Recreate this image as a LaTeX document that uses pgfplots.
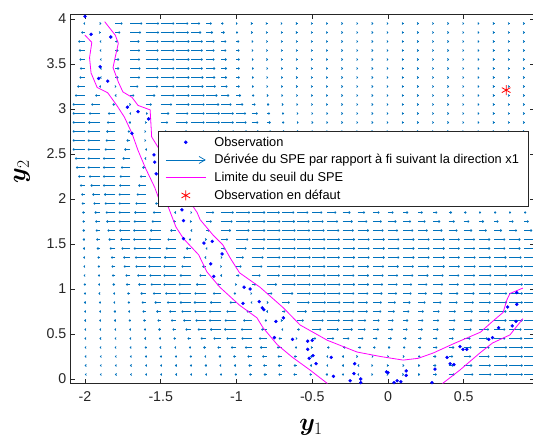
\PassOptionsToPackage{rgb}{xcolor}
\documentclass[border=0pt]{standalone}
\usepackage{fix-cm}
\usepackage{amsmath}
\usepackage{bm}
\usepackage[no-math]{fontspec}
\setmainfont{Liberation Sans}
\usepackage{pgfplots}
\pgfplotsset{compat=1.18}
\usetikzlibrary{arrows.meta}
\definecolor{mblue}{rgb}{0,0.447,0.741}
\definecolor{axgray}{rgb}{0.15,0.15,0.15}
\definecolor{mred}{rgb}{1,0,0}
\definecolor{mdot}{rgb}{0,0,1}
\definecolor{mmag}{rgb}{1,0,1}
\begin{document}
\begin{tikzpicture}
\useasboundingbox (-69.85bp,-55.5bp) rectangle (463.15bp,383.5bp);
\begin{axis}[
  at={(0,0)}, anchor=south west,
  scale only axis, width=465.1bp, height=369bp,
  xmin=-2.1, xmax=0.97, ymin=-0.05, ymax=4.05,
  xtick={-2,-1.5,-1,-0.5,0,0.5}, ytick={0,0.5,1,1.5,2,2.5,3,3.5,4},
  tick align=inside, major tick length=5bp,
  axis line style={axgray, line width=0.6bp},
  every tick/.style={axgray, line width=0.6bp},
  tick label style={font=\fontsize{14.2bp}{16bp}\selectfont, text=axgray},
  xticklabel style={yshift=-5bp},
  /pgf/number format/assume math mode=true,
  xlabel={$\bm{y}_1$}, ylabel={$\bm{y}_2$},
  x label style={at={(axis description cs:0.5185,0)}, anchor=base, yshift=-47bp, font=\fontsize{25bp}{30bp}\selectfont},
  y label style={at={(axis description cs:-0.0964,0.5745)}, anchor=base, font=\fontsize{25bp}{30bp}\selectfont},
  legend style={at={(0.1896,0.684)}, anchor=north west, draw=axgray, line width=0.5bp, fill=white,
    font=\fontsize{12.8bp}{15bp}\selectfont, row sep=2.9bp, inner xsep=7bp, inner ysep=3.5bp,
    /tikz/every odd column/.append style={column sep=6bp}},
  legend cell align=left,
  unbounded coords=jump,
]
\addplot[mblue, line width=0.8bp, -{Straight Barb[length=1bp,width=2bp]}, quiver={u=\thisrow{u}, v=0, scale arrows=0.0075}, forget plot]
table[row sep=\\] {
x y u\\
-2 3.95 -1.5\\ -1.9 3.95 1\\ -1.8 3.95 6.5\\ -1.7 3.95 10.5\\ -1.6 3.95 12\\ -1.5 3.95 12\\ -1.4 3.95 11\\ -1.3 3.95 8\\ -1.2 3.95 5\\ -1.1 3.95 2\\ -1 3.95 1\\ -0.9 3.95 0.8\\ -0.8 3.95 0.6\\ -0.7 3.95 0.4\\ -0.6 3.95 0.4\\ -0.5 3.95 0.4\\ -0.4 3.95 0.4\\ -0.3 3.95 0.4\\ -0.2 3.95 0.4\\ -0.1 3.95 0.4\\ 0 3.95 0.4\\ 0.1 3.95 0.4\\ 0.2 3.95 0.4\\ 0.3 3.95 0.4\\ 0.4 3.95 0.4\\ 0.5 3.95 0.4\\ 0.6 3.95 0.4\\ 0.7 3.95 0.4\\ 0.8 3.95 0.4\\ 0.9 3.95 0.4\\
-2 3.85 -3.5\\ -1.9 3.85 0.5\\ -1.8 3.85 4.5\\ -1.7 3.85 9.5\\ -1.6 3.85 12\\ -1.5 3.85 12\\ -1.4 3.85 11.5\\ -1.3 3.85 9\\ -1.2 3.85 6\\ -1.1 3.85 3\\ -1 3.85 1.5\\ -0.9 3.85 1\\ -0.8 3.85 0.8\\ -0.7 3.85 0.6\\ -0.6 3.85 0.4\\ -0.5 3.85 0.4\\ -0.4 3.85 0.4\\ -0.3 3.85 0.4\\ -0.2 3.85 0.4\\ -0.1 3.85 0.4\\ 0 3.85 0.4\\ 0.1 3.85 0.4\\ 0.2 3.85 0.4\\ 0.3 3.85 0.4\\ 0.4 3.85 0.4\\ 0.5 3.85 0.4\\ 0.6 3.85 0.4\\ 0.7 3.85 0.4\\ 0.8 3.85 0.4\\ 0.9 3.85 0.4\\
-2 3.75 -6\\ -1.9 3.75 -0.5\\ -1.8 3.75 2.5\\ -1.7 3.75 8\\ -1.6 3.75 11.5\\ -1.5 3.75 12\\ -1.4 3.75 12\\ -1.3 3.75 10.5\\ -1.2 3.75 7.5\\ -1.1 3.75 4.5\\ -1 3.75 2.5\\ -0.9 3.75 1.5\\ -0.8 3.75 1\\ -0.7 3.75 0.7\\ -0.6 3.75 0.5\\ -0.5 3.75 0.4\\ -0.4 3.75 0.4\\ -0.3 3.75 0.4\\ -0.2 3.75 0.4\\ -0.1 3.75 0.4\\ 0 3.75 0.4\\ 0.1 3.75 0.4\\ 0.2 3.75 0.4\\ 0.3 3.75 0.4\\ 0.4 3.75 0.4\\ 0.5 3.75 0.4\\ 0.6 3.75 0.4\\ 0.7 3.75 0.4\\ 0.8 3.75 0.4\\ 0.9 3.75 0.4\\
-2 3.65 -5.5\\ -1.9 3.65 -0.5\\ -1.8 3.65 3\\ -1.7 3.65 8.5\\ -1.6 3.65 11.5\\ -1.5 3.65 12\\ -1.4 3.65 12\\ -1.3 3.65 10.5\\ -1.2 3.65 7.5\\ -1.1 3.65 4.5\\ -1 3.65 2.8\\ -0.9 3.65 1.6\\ -0.8 3.65 1\\ -0.7 3.65 0.7\\ -0.6 3.65 0.5\\ -0.5 3.65 0.4\\ -0.4 3.65 0.4\\ -0.3 3.65 0.4\\ -0.2 3.65 0.4\\ -0.1 3.65 0.4\\ 0 3.65 0.4\\ 0.1 3.65 0.4\\ 0.2 3.65 0.4\\ 0.3 3.65 0.4\\ 0.4 3.65 0.4\\ 0.5 3.65 0.4\\ 0.6 3.65 0.4\\ 0.7 3.65 0.4\\ 0.8 3.65 0.4\\ 0.9 3.65 0.4\\
-2 3.55 -5\\ -1.9 3.55 -0.3\\ -1.8 3.55 3.5\\ -1.7 3.55 8.5\\ -1.6 3.55 11.5\\ -1.5 3.55 12\\ -1.4 3.55 12\\ -1.3 3.55 10.5\\ -1.2 3.55 7.5\\ -1.1 3.55 4.8\\ -1 3.55 3\\ -0.9 3.55 1.8\\ -0.8 3.55 1.1\\ -0.7 3.55 0.7\\ -0.6 3.55 0.5\\ -0.5 3.55 0.4\\ -0.4 3.55 0.4\\ -0.3 3.55 0.4\\ -0.2 3.55 0.4\\ -0.1 3.55 0.4\\ 0 3.55 0.4\\ 0.1 3.55 0.4\\ 0.2 3.55 0.4\\ 0.3 3.55 0.4\\ 0.4 3.55 0.4\\ 0.5 3.55 0.4\\ 0.6 3.55 0.4\\ 0.7 3.55 0.4\\ 0.8 3.55 0.4\\ 0.9 3.55 0.4\\
-2 3.45 -4.5\\ -1.9 3.45 -0.2\\ -1.8 3.45 3.5\\ -1.7 3.45 9\\ -1.6 3.45 11.5\\ -1.5 3.45 12\\ -1.4 3.45 12\\ -1.3 3.45 10.5\\ -1.2 3.45 8\\ -1.1 3.45 5\\ -1 3.45 3\\ -0.9 3.45 2\\ -0.8 3.45 1.2\\ -0.7 3.45 0.8\\ -0.6 3.45 0.5\\ -0.5 3.45 0.4\\ -0.4 3.45 0.4\\ -0.3 3.45 0.4\\ -0.2 3.45 0.4\\ -0.1 3.45 0.4\\ 0 3.45 0.4\\ 0.1 3.45 0.4\\ 0.2 3.45 0.4\\ 0.3 3.45 0.4\\ 0.4 3.45 0.4\\ 0.5 3.45 0.4\\ 0.6 3.45 0.4\\ 0.7 3.45 0.4\\ 0.8 3.45 0.4\\ 0.9 3.45 0.4\\
-2 3.35 -5\\ -1.9 3.35 -0.3\\ -1.8 3.35 3\\ -1.7 3.35 8.5\\ -1.6 3.35 11.5\\ -1.5 3.35 12\\ -1.4 3.35 12\\ -1.3 3.35 11\\ -1.2 3.35 8\\ -1.1 3.35 5\\ -1 3.35 3\\ -0.9 3.35 2\\ -0.8 3.35 1.2\\ -0.7 3.35 0.8\\ -0.6 3.35 0.6\\ -0.5 3.35 0.4\\ -0.4 3.35 0.4\\ -0.3 3.35 0.4\\ -0.2 3.35 0.4\\ -0.1 3.35 0.4\\ 0 3.35 0.4\\ 0.1 3.35 0.4\\ 0.2 3.35 0.4\\ 0.3 3.35 0.4\\ 0.4 3.35 0.4\\ 0.5 3.35 0.4\\ 0.6 3.35 0.4\\ 0.7 3.35 0.4\\ 0.8 3.35 0.4\\ 0.9 3.35 0.4\\
-2 3.25 -7\\ -1.9 3.25 -1\\ -1.8 3.25 1\\ -1.7 3.25 7\\ -1.6 3.25 11\\ -1.5 3.25 12\\ -1.4 3.25 12\\ -1.3 3.25 11\\ -1.2 3.25 8.5\\ -1.1 3.25 5.5\\ -1 3.25 3\\ -0.9 3.25 2\\ -0.8 3.25 1.2\\ -0.7 3.25 0.8\\ -0.6 3.25 0.6\\ -0.5 3.25 0.4\\ -0.4 3.25 0.4\\ -0.3 3.25 0.4\\ -0.2 3.25 0.4\\ -0.1 3.25 0.4\\ 0 3.25 0.4\\ 0.1 3.25 0.4\\ 0.2 3.25 0.4\\ 0.3 3.25 0.4\\ 0.4 3.25 0.4\\ 0.5 3.25 0.4\\ 0.6 3.25 0.4\\ 0.7 3.25 0.4\\ 0.8 3.25 0.4\\ 0.9 3.25 0.4\\
-2 3.15 -9\\ -1.9 3.15 -4.5\\ -1.8 3.15 -0.5\\ -1.7 3.15 3.5\\ -1.6 3.15 8.5\\ -1.5 3.15 12\\ -1.4 3.15 12\\ -1.3 3.15 12\\ -1.2 3.15 10\\ -1.1 3.15 7\\ -1 3.15 4\\ -0.9 3.15 2.5\\ -0.8 3.15 1.5\\ -0.7 3.15 1\\ -0.6 3.15 0.7\\ -0.5 3.15 0.5\\ -0.4 3.15 0.4\\ -0.3 3.15 0.4\\ -0.2 3.15 0.4\\ -0.1 3.15 0.4\\ 0 3.15 0.4\\ 0.1 3.15 0.4\\ 0.2 3.15 0.4\\ 0.3 3.15 0.4\\ 0.4 3.15 0.4\\ 0.5 3.15 0.4\\ 0.6 3.15 0.4\\ 0.7 3.15 0.4\\ 0.8 3.15 0.4\\ 0.9 3.15 0.4\\
-2 3.05 -11\\ -1.9 3.05 -8\\ -1.8 3.05 -2.5\\ -1.7 3.05 0.5\\ -1.6 3.05 5.5\\ -1.5 3.05 10\\ -1.4 3.05 12\\ -1.3 3.05 12\\ -1.2 3.05 11.5\\ -1.1 3.05 9\\ -1 3.05 6\\ -0.9 3.05 3.5\\ -0.8 3.05 2.2\\ -0.7 3.05 1.4\\ -0.6 3.05 0.9\\ -0.5 3.05 0.6\\ -0.4 3.05 0.4\\ -0.3 3.05 0.4\\ -0.2 3.05 0.4\\ -0.1 3.05 0.4\\ 0 3.05 0.4\\ 0.1 3.05 0.4\\ 0.2 3.05 0.4\\ 0.3 3.05 0.4\\ 0.4 3.05 0.4\\ 0.5 3.05 0.4\\ 0.6 3.05 0.4\\ 0.7 3.05 0.4\\ 0.8 3.05 0.4\\ 0.9 3.05 0.4\\
-2 2.95 -11\\ -1.9 2.95 -10\\ -1.8 2.95 -6.5\\ -1.7 2.95 -1\\ -1.6 2.95 2\\ -1.5 2.95 7.5\\ -1.4 2.95 11\\ -1.3 2.95 12\\ -1.2 2.95 12\\ -1.1 2.95 11\\ -1 2.95 8.5\\ -0.9 2.95 5.5\\ -0.8 2.95 3\\ -0.7 2.95 2\\ -0.6 2.95 1.2\\ -0.5 2.95 0.8\\ -0.4 2.95 0.6\\ -0.3 2.95 0.4\\ -0.2 2.95 0.4\\ -0.1 2.95 0.4\\ 0 2.95 0.4\\ 0.1 2.95 0.4\\ 0.2 2.95 0.4\\ 0.3 2.95 0.4\\ 0.4 2.95 0.4\\ 0.5 2.95 0.4\\ 0.6 2.95 0.4\\ 0.7 2.95 0.4\\ 0.8 2.95 0.4\\ 0.9 2.95 0.4\\
-2 2.85 -11\\ -1.9 2.85 -10.5\\ -1.8 2.85 -7.5\\ -1.7 2.85 -1.5\\ -1.6 2.85 1\\ -1.5 2.85 6.5\\ -1.4 2.85 10.5\\ -1.3 2.85 12\\ -1.2 2.85 12\\ -1.1 2.85 11\\ -1 2.85 9\\ -0.9 2.85 6\\ -0.8 2.85 3.5\\ -0.7 2.85 2.2\\ -0.6 2.85 1.4\\ -0.5 2.85 0.9\\ -0.4 2.85 0.6\\ -0.3 2.85 0.4\\ -0.2 2.85 0.4\\ -0.1 2.85 0.4\\ 0 2.85 0.4\\ 0.1 2.85 0.4\\ 0.2 2.85 0.4\\ 0.3 2.85 0.4\\ 0.4 2.85 0.4\\ 0.5 2.85 0.4\\ 0.6 2.85 0.4\\ 0.7 2.85 0.4\\ 0.8 2.85 0.4\\ 0.9 2.85 0.4\\
-2 2.75 -11\\ -1.9 2.75 -11\\ -1.8 2.75 -8\\ -1.7 2.75 -2.5\\ -1.6 2.75 0.5\\ -1.5 2.75 5.5\\ -1.4 2.75 10\\ -1.3 2.75 12\\ -1.2 2.75 12\\ -1.1 2.75 11.5\\ -1 2.75 9.5\\ -0.9 2.75 6.5\\ -0.8 2.75 4\\ -0.7 2.75 2.5\\ -0.6 2.75 1.5\\ -0.5 2.75 1\\ -0.4 2.75 0.7\\ -0.3 2.75 0.5\\ -0.2 2.75 0.4\\ -0.1 2.75 0.4\\ 0 2.75 0.4\\ 0.1 2.75 0.4\\ 0.2 2.75 0.4\\ 0.3 2.75 0.4\\ 0.4 2.75 0.4\\ 0.5 2.75 0.4\\ 0.6 2.75 0.4\\ 0.7 2.75 0.4\\ 0.8 2.75 0.4\\ 0.9 2.75 0.4\\
-2 2.65 -11\\ -1.9 2.65 -11\\ -1.8 2.65 -8.5\\ -1.7 2.65 -3.5\\ -1.6 2.65 0.5\\ -1.5 2.65 4.5\\ -1.4 2.65 9.5\\ -1.3 2.65 12\\ -1.2 2.65 12\\ -1.1 2.65 12\\ -1 2.65 10\\ -0.9 2.65 7\\ -0.8 2.65 4.5\\ -0.7 2.65 3\\ -0.6 2.65 2\\ -0.5 2.65 1.2\\ -0.4 2.65 0.8\\ -0.3 2.65 0.5\\ -0.2 2.65 0.5\\ -0.1 2.65 0.5\\ 0 2.65 0.5\\ 0.1 2.65 0.5\\ 0.2 2.65 0.5\\ 0.3 2.65 0.5\\ 0.4 2.65 0.5\\ 0.5 2.65 0.5\\ 0.6 2.65 0.5\\ 0.7 2.65 0.5\\ 0.8 2.65 0.5\\ 0.9 2.65 0.5\\
-2 2.55 -11\\ -1.9 2.55 -11\\ -1.8 2.55 -9.5\\ -1.7 2.55 -5.5\\ -1.6 2.55 -0.5\\ -1.5 2.55 3\\ -1.4 2.55 8.5\\ -1.3 2.55 11.5\\ -1.2 2.55 12\\ -1.1 2.55 12\\ -1 2.55 10.5\\ -0.9 2.55 8\\ -0.8 2.55 5.5\\ -0.7 2.55 3.5\\ -0.6 2.55 2.5\\ -0.5 2.55 1.5\\ -0.4 2.55 1\\ -0.3 2.55 0.6\\ -0.2 2.55 0.6\\ -0.1 2.55 0.6\\ 0 2.55 0.6\\ 0.1 2.55 0.6\\ 0.2 2.55 0.6\\ 0.3 2.55 0.6\\ 0.4 2.55 0.6\\ 0.5 2.55 0.6\\ 0.6 2.55 0.6\\ 0.7 2.55 0.6\\ 0.8 2.55 0.6\\ 0.9 2.55 0.6\\
-2 2.45 -9\\ -1.9 2.45 -11\\ -1.8 2.45 -11\\ -1.7 2.45 -7\\ -1.6 2.45 -1\\ -1.5 2.45 1\\ -1.4 2.45 7\\ -1.3 2.45 11\\ -1.2 2.45 12\\ -1.1 2.45 12\\ -1 2.45 11\\ -0.9 2.45 9\\ -0.8 2.45 6.5\\ -0.7 2.45 4.5\\ -0.6 2.45 3\\ -0.5 2.45 2\\ -0.4 2.45 1.5\\ -0.3 2.45 1\\ -0.2 2.45 0.8\\ -0.1 2.45 0.8\\ 0 2.45 0.8\\ 0.1 2.45 0.8\\ 0.2 2.45 0.8\\ 0.3 2.45 0.8\\ 0.4 2.45 0.8\\ 0.5 2.45 0.8\\ 0.6 2.45 0.8\\ 0.7 2.45 0.8\\ 0.8 2.45 0.8\\ 0.9 2.45 0.8\\
-2 2.35 -8\\ -1.9 2.35 -11\\ -1.8 2.35 -11\\ -1.7 2.35 -8.5\\ -1.6 2.35 -3\\ -1.5 2.35 0.5\\ -1.4 2.35 5\\ -1.3 2.35 10\\ -1.2 2.35 12\\ -1.1 2.35 12\\ -1 2.35 11.5\\ -0.9 2.35 9.5\\ -0.8 2.35 7.5\\ -0.7 2.35 5.5\\ -0.6 2.35 4\\ -0.5 2.35 3\\ -0.4 2.35 2\\ -0.3 2.35 1.5\\ -0.2 2.35 1.2\\ -0.1 2.35 1\\ 0 2.35 1\\ 0.1 2.35 1\\ 0.2 2.35 1\\ 0.3 2.35 1\\ 0.4 2.35 1\\ 0.5 2.35 1\\ 0.6 2.35 1\\ 0.7 2.35 1\\ 0.8 2.35 1\\ 0.9 2.35 1\\
-2 2.25 -6\\ -1.9 2.25 -10\\ -1.8 2.25 -11\\ -1.7 2.25 -9.5\\ -1.6 2.25 -5\\ -1.5 2.25 -0.5\\ -1.4 2.25 3\\ -1.3 2.25 8.5\\ -1.2 2.25 11.5\\ -1.1 2.25 12\\ -1 2.25 12\\ -0.9 2.25 10\\ -0.8 2.25 8.5\\ -0.7 2.25 6.5\\ -0.6 2.25 5\\ -0.5 2.25 4\\ -0.4 2.25 3\\ -0.3 2.25 2.5\\ -0.2 2.25 2\\ -0.1 2.25 1.5\\ 0 2.25 1.2\\ 0.1 2.25 1.2\\ 0.2 2.25 1.2\\ 0.3 2.25 1.2\\ 0.4 2.25 1.2\\ 0.5 2.25 1.2\\ 0.6 2.25 1.2\\ 0.7 2.25 1.2\\ 0.8 2.25 1.2\\ 0.9 2.25 1.2\\
-2 2.15 -4.5\\ -1.9 2.15 -8.5\\ -1.8 2.15 -11\\ -1.7 2.15 -10\\ -1.6 2.15 -6.5\\ -1.5 2.15 -1\\ -1.4 2.15 1.5\\ -1.3 2.15 7\\ -1.2 2.15 11\\ -1.1 2.15 12\\ -1 2.15 12\\ -0.9 2.15 11\\ -0.8 2.15 9.5\\ -0.7 2.15 8\\ -0.6 2.15 6.5\\ -0.5 2.15 5\\ -0.4 2.15 4\\ -0.3 2.15 3.5\\ -0.2 2.15 3\\ -0.1 2.15 2.5\\ 0 2.15 2\\ 0.1 2.15 1.5\\ 0.2 2.15 1.5\\ 0.3 2.15 1.5\\ 0.4 2.15 1.5\\ 0.5 2.15 1.5\\ 0.6 2.15 1.5\\ 0.7 2.15 1.5\\ 0.8 2.15 1.5\\ 0.9 2.15 1.5\\
-2 2.05 -3.5\\ -1.9 2.05 -7\\ -1.8 2.05 -10\\ -1.7 2.05 -10.5\\ -1.6 2.05 -8\\ -1.5 2.05 -3\\ -1.4 2.05 0.5\\ -1.3 2.05 5\\ -1.2 2.05 10\\ -1.1 2.05 12\\ -1 2.05 12\\ -0.9 2.05 11.5\\ -0.8 2.05 10.5\\ -0.7 2.05 9\\ -0.6 2.05 7.5\\ -0.5 2.05 6\\ -0.4 2.05 5\\ -0.3 2.05 4.5\\ -0.2 2.05 4\\ -0.1 2.05 3.5\\ 0 2.05 3\\ 0.1 2.05 2.5\\ 0.2 2.05 2\\ 0.3 2.05 2\\ 0.4 2.05 2\\ 0.5 2.05 2\\ 0.6 2.05 2\\ 0.7 2.05 2\\ 0.8 2.05 2\\ 0.9 2.05 2\\
-2 1.95 -3\\ -1.9 1.95 -6\\ -1.8 1.95 -9.5\\ -1.7 1.95 -10.5\\ -1.6 1.95 -9\\ -1.5 1.95 -5\\ -1.4 1.95 -0.5\\ -1.3 1.95 3\\ -1.2 1.95 8.5\\ -1.1 1.95 11.5\\ -1 1.95 12\\ -0.9 1.95 11.5\\ -0.8 1.95 11\\ -0.7 1.95 10\\ -0.6 1.95 9\\ -0.5 1.95 8\\ -0.4 1.95 7\\ -0.3 1.95 6\\ -0.2 1.95 5.5\\ -0.1 1.95 5\\ 0 1.95 4.5\\ 0.1 1.95 4\\ 0.2 1.95 3.5\\ 0.3 1.95 3\\ 0.4 1.95 2.5\\ 0.5 1.95 2\\ 0.6 1.95 1.8\\ 0.7 1.95 1.5\\ 0.8 1.95 1.3\\ 0.9 1.95 1.2\\
-2 1.85 -2.5\\ -1.9 1.85 -5\\ -1.8 1.85 -8.5\\ -1.7 1.85 -10.5\\ -1.6 1.85 -10\\ -1.5 1.85 -7\\ -1.4 1.85 -1.5\\ -1.3 1.85 1\\ -1.2 1.85 7\\ -1.1 1.85 11\\ -1 1.85 12\\ -0.9 1.85 12\\ -0.8 1.85 11.5\\ -0.7 1.85 11\\ -0.6 1.85 10\\ -0.5 1.85 9\\ -0.4 1.85 8\\ -0.3 1.85 7\\ -0.2 1.85 6.5\\ -0.1 1.85 6\\ 0 1.85 5\\ 0.1 1.85 4.5\\ 0.2 1.85 4\\ 0.3 1.85 3.5\\ 0.4 1.85 3\\ 0.5 1.85 2.5\\ 0.6 1.85 2\\ 0.7 1.85 2\\ 0.8 1.85 1.8\\ 0.9 1.85 1.8\\
-2 1.75 -2.3\\ -1.9 1.75 -4.5\\ -1.8 1.75 -8\\ -1.7 1.75 -10.5\\ -1.6 1.75 -10.5\\ -1.5 1.75 -8\\ -1.4 1.75 -2.5\\ -1.3 1.75 0.5\\ -1.2 1.75 5\\ -1.1 1.75 10\\ -1 1.75 12\\ -0.9 1.75 12\\ -0.8 1.75 12\\ -0.7 1.75 11.5\\ -0.6 1.75 11\\ -0.5 1.75 10\\ -0.4 1.75 9.5\\ -0.3 1.75 9\\ -0.2 1.75 8.5\\ -0.1 1.75 8\\ 0 1.75 7.5\\ 0.1 1.75 7\\ 0.2 1.75 6.5\\ 0.3 1.75 6\\ 0.4 1.75 5.5\\ 0.5 1.75 5\\ 0.6 1.75 4.5\\ 0.7 1.75 4\\ 0.8 1.75 4\\ 0.9 1.75 4\\
-2 1.65 -2.2\\ -1.9 1.65 -4\\ -1.8 1.65 -7\\ -1.7 1.65 -10\\ -1.6 1.65 -11\\ -1.5 1.65 -9.5\\ -1.4 1.65 -5\\ -1.3 1.65 -0.5\\ -1.2 1.65 3\\ -1.1 1.65 8.5\\ -1 1.65 11.5\\ -0.9 1.65 12\\ -0.8 1.65 12\\ -0.7 1.65 12\\ -0.6 1.65 11.5\\ -0.5 1.65 11\\ -0.4 1.65 10.5\\ -0.3 1.65 10\\ -0.2 1.65 10\\ -0.1 1.65 9.5\\ 0 1.65 9\\ 0.1 1.65 9\\ 0.2 1.65 8.5\\ 0.3 1.65 8\\ 0.4 1.65 8\\ 0.5 1.65 7.5\\ 0.6 1.65 7\\ 0.7 1.65 7\\ 0.8 1.65 7\\ 0.9 1.65 7\\
-2 1.55 -2\\ -1.9 1.55 -3.5\\ -1.8 1.55 -6\\ -1.7 1.55 -9\\ -1.6 1.55 -11\\ -1.5 1.55 -10.5\\ -1.4 1.55 -7.5\\ -1.3 1.55 -2\\ -1.2 1.55 0.5\\ -1.1 1.55 6\\ -1 1.55 10.5\\ -0.9 1.55 12\\ -0.8 1.55 12\\ -0.7 1.55 12\\ -0.6 1.55 12\\ -0.5 1.55 11.5\\ -0.4 1.55 11\\ -0.3 1.55 11\\ -0.2 1.55 10.5\\ -0.1 1.55 10.5\\ 0 1.55 10\\ 0.1 1.55 10\\ 0.2 1.55 10\\ 0.3 1.55 10\\ 0.4 1.55 10\\ 0.5 1.55 10\\ 0.6 1.55 10\\ 0.7 1.55 10\\ 0.8 1.55 10\\ 0.9 1.55 10\\
-2 1.45 -1.8\\ -1.9 1.45 -3\\ -1.8 1.45 -5\\ -1.7 1.45 -8\\ -1.6 1.45 -10.5\\ -1.5 1.45 -11\\ -1.4 1.45 -9\\ -1.3 1.45 -4.5\\ -1.2 1.45 -0.5\\ -1.1 1.45 3.5\\ -1 1.45 9\\ -0.9 1.45 11.5\\ -0.8 1.45 12\\ -0.7 1.45 12\\ -0.6 1.45 12\\ -0.5 1.45 11.5\\ -0.4 1.45 11\\ -0.3 1.45 11\\ -0.2 1.45 10.5\\ -0.1 1.45 10.5\\ 0 1.45 10\\ 0.1 1.45 10\\ 0.2 1.45 10\\ 0.3 1.45 10\\ 0.4 1.45 10\\ 0.5 1.45 10\\ 0.6 1.45 10\\ 0.7 1.45 10\\ 0.8 1.45 10\\ 0.9 1.45 10\\
-2 1.35 -1.6\\ -1.9 1.35 -2.5\\ -1.8 1.35 -4\\ -1.7 1.35 -6.5\\ -1.6 1.35 -9.5\\ -1.5 1.35 -11\\ -1.4 1.35 -10.5\\ -1.3 1.35 -7\\ -1.2 1.35 -1.5\\ -1.1 1.35 1\\ -1 1.35 6.5\\ -0.9 1.35 10.5\\ -0.8 1.35 12\\ -0.7 1.35 12\\ -0.6 1.35 12\\ -0.5 1.35 11.5\\ -0.4 1.35 11\\ -0.3 1.35 11\\ -0.2 1.35 10.5\\ -0.1 1.35 10.5\\ 0 1.35 10\\ 0.1 1.35 10\\ 0.2 1.35 10\\ 0.3 1.35 10\\ 0.4 1.35 10\\ 0.5 1.35 10.5\\ 0.6 1.35 10.5\\ 0.7 1.35 11\\ 0.8 1.35 11\\ 0.9 1.35 11\\
-2 1.25 -1.5\\ -1.9 1.25 -2.2\\ -1.8 1.25 -3.5\\ -1.7 1.25 -6\\ -1.6 1.25 -9\\ -1.5 1.25 -11\\ -1.4 1.25 -11\\ -1.3 1.25 -8.5\\ -1.2 1.25 -3.5\\ -1.1 1.25 0.5\\ -1 1.25 4.5\\ -0.9 1.25 9.5\\ -0.8 1.25 12\\ -0.7 1.25 12\\ -0.6 1.25 12\\ -0.5 1.25 11.5\\ -0.4 1.25 11\\ -0.3 1.25 10.5\\ -0.2 1.25 10\\ -0.1 1.25 10\\ 0 1.25 9.5\\ 0.1 1.25 9.5\\ 0.2 1.25 9.5\\ 0.3 1.25 10\\ 0.4 1.25 10\\ 0.5 1.25 10.5\\ 0.6 1.25 11\\ 0.7 1.25 11.5\\ 0.8 1.25 12\\ 0.9 1.25 12\\
-2 1.15 -1.3\\ -1.9 1.15 -2\\ -1.8 1.15 -3\\ -1.7 1.15 -4.5\\ -1.6 1.15 -7.5\\ -1.5 1.15 -10\\ -1.4 1.15 -11\\ -1.3 1.15 -10\\ -1.2 1.15 -6\\ -1.1 1.15 -1\\ -1 1.15 2.5\\ -0.9 1.15 8\\ -0.8 1.15 11.5\\ -0.7 1.15 12\\ -0.6 1.15 12\\ -0.5 1.15 11.5\\ -0.4 1.15 11\\ -0.3 1.15 10.5\\ -0.2 1.15 10\\ -0.1 1.15 9.5\\ 0 1.15 9\\ 0.1 1.15 9\\ 0.2 1.15 9\\ 0.3 1.15 9\\ 0.4 1.15 9.5\\ 0.5 1.15 10\\ 0.6 1.15 11\\ 0.7 1.15 11.5\\ 0.8 1.15 12\\ 0.9 1.15 12\\
-2 1.05 -1.2\\ -1.9 1.05 -1.8\\ -1.8 1.05 -2.5\\ -1.7 1.05 -4\\ -1.6 1.05 -6.5\\ -1.5 1.05 -9\\ -1.4 1.05 -11\\ -1.3 1.05 -11\\ -1.2 1.05 -9\\ -1.1 1.05 -4\\ -1 1.05 0.3\\ -0.9 1.05 4\\ -0.8 1.05 9\\ -0.7 1.05 12\\ -0.6 1.05 12\\ -0.5 1.05 12\\ -0.4 1.05 11.5\\ -0.3 1.05 11\\ -0.2 1.05 10\\ -0.1 1.05 9\\ 0 1.05 8.5\\ 0.1 1.05 8\\ 0.2 1.05 8\\ 0.3 1.05 8.5\\ 0.4 1.05 9\\ 0.5 1.05 10\\ 0.6 1.05 11\\ 0.7 1.05 12\\ 0.8 1.05 12\\ 0.9 1.05 12\\
-2 0.95 -1\\ -1.9 0.95 -1.5\\ -1.8 0.95 -2\\ -1.7 0.95 -3\\ -1.6 0.95 -4.5\\ -1.5 0.95 -7\\ -1.4 0.95 -9.5\\ -1.3 0.95 -11\\ -1.2 0.95 -10.5\\ -1.1 0.95 -7.5\\ -1 0.95 -2.5\\ -0.9 0.95 0.5\\ -0.8 0.95 5\\ -0.7 0.95 10\\ -0.6 0.95 12\\ -0.5 0.95 12\\ -0.4 0.95 11.5\\ -0.3 0.95 10.5\\ -0.2 0.95 9.5\\ -0.1 0.95 8.5\\ 0 0.95 8\\ 0.1 0.95 7.5\\ 0.2 0.95 7.5\\ 0.3 0.95 8\\ 0.4 0.95 8.5\\ 0.5 0.95 9.5\\ 0.6 0.95 10.5\\ 0.7 0.95 11.5\\ 0.8 0.95 12\\ 0.9 0.95 12\\
-2 0.85 -0.9\\ -1.9 0.85 -1.2\\ -1.8 0.85 -1.8\\ -1.7 0.85 -2.5\\ -1.6 0.85 -3.5\\ -1.5 0.85 -5.5\\ -1.4 0.85 -8\\ -1.3 0.85 -10\\ -1.2 0.85 -11\\ -1.1 0.85 -10\\ -1 0.85 -6\\ -0.9 0.85 -1\\ -0.8 0.85 1.5\\ -0.7 0.85 7\\ -0.6 0.85 11\\ -0.5 0.85 12\\ -0.4 0.85 11.5\\ -0.3 0.85 10.5\\ -0.2 0.85 9\\ -0.1 0.85 8\\ 0 0.85 7\\ 0.1 0.85 6.5\\ 0.2 0.85 6.5\\ 0.3 0.85 7\\ 0.4 0.85 8\\ 0.5 0.85 9\\ 0.6 0.85 10.5\\ 0.7 0.85 11.5\\ 0.8 0.85 12\\ 0.9 0.85 12\\
-2 0.75 -0.8\\ -1.9 0.75 -1\\ -1.8 0.75 -1.4\\ -1.7 0.75 -2\\ -1.6 0.75 -2.8\\ -1.5 0.75 -4\\ -1.4 0.75 -6\\ -1.3 0.75 -8.5\\ -1.2 0.75 -10.5\\ -1.1 0.75 -11\\ -1 0.75 -9\\ -0.9 0.75 -4.5\\ -0.8 0.75 -0.5\\ -0.7 0.75 3\\ -0.6 0.75 8.5\\ -0.5 0.75 11.5\\ -0.4 0.75 11.5\\ -0.3 0.75 10.5\\ -0.2 0.75 9\\ -0.1 0.75 7.5\\ 0 0.75 6\\ 0.1 0.75 5.5\\ 0.2 0.75 5\\ 0.3 0.75 5.5\\ 0.4 0.75 6.5\\ 0.5 0.75 8\\ 0.6 0.75 9.5\\ 0.7 0.75 11\\ 0.8 0.75 12\\ 0.9 0.75 12\\
-2 0.65 -0.7\\ -1.9 0.65 -0.9\\ -1.8 0.65 -1.2\\ -1.7 0.65 -1.6\\ -1.6 0.65 -2.2\\ -1.5 0.65 -3\\ -1.4 0.65 -4.5\\ -1.3 0.65 -7\\ -1.2 0.65 -9.5\\ -1.1 0.65 -11\\ -1 0.65 -10.5\\ -0.9 0.65 -7.5\\ -0.8 0.65 -2\\ -0.7 0.65 0.5\\ -0.6 0.65 6\\ -0.5 0.65 10\\ -0.4 0.65 11\\ -0.3 0.65 9.5\\ -0.2 0.65 7.5\\ -0.1 0.65 6\\ 0 0.65 5\\ 0.1 0.65 4.5\\ 0.2 0.65 4.5\\ 0.3 0.65 5\\ 0.4 0.65 6\\ 0.5 0.65 7.5\\ 0.6 0.65 9.5\\ 0.7 0.65 11\\ 0.8 0.65 12\\ 0.9 0.65 12\\
-2 0.55 -0.6\\ -1.9 0.55 -0.7\\ -1.8 0.55 -0.9\\ -1.7 0.55 -1.2\\ -1.6 0.55 -1.6\\ -1.5 0.55 -2.2\\ -1.4 0.55 -3.2\\ -1.3 0.55 -5\\ -1.2 0.55 -7.5\\ -1.1 0.55 -10\\ -1 0.55 -11\\ -0.9 0.55 -9.5\\ -0.8 0.55 -5\\ -0.7 0.55 -0.5\\ -0.6 0.55 2.5\\ -0.5 0.55 8\\ -0.4 0.55 10\\ -0.3 0.55 9\\ -0.2 0.55 7\\ -0.1 0.55 5.5\\ 0 0.55 4.5\\ 0.1 0.55 4\\ 0.2 0.55 4\\ 0.3 0.55 4.5\\ 0.4 0.55 5.5\\ 0.5 0.55 7\\ 0.6 0.55 9\\ 0.7 0.55 10\\ 0.8 0.55 11\\ 0.9 0.55 12\\
-2 0.45 -0.5\\ -1.9 0.45 -0.6\\ -1.8 0.45 -0.7\\ -1.7 0.45 -0.9\\ -1.6 0.45 -1.2\\ -1.5 0.45 -1.6\\ -1.4 0.45 -2.2\\ -1.3 0.45 -3.2\\ -1.2 0.45 -5\\ -1.1 0.45 -7\\ -1 0.45 -9\\ -0.9 0.45 -9\\ -0.8 0.45 -7\\ -0.7 0.45 -3\\ -0.6 0.45 0.3\\ -0.5 0.45 3.5\\ -0.4 0.45 6\\ -0.3 0.45 6\\ -0.2 0.45 5\\ -0.1 0.45 4\\ 0 0.45 3.5\\ 0.1 0.45 3\\ 0.2 0.45 3\\ 0.3 0.45 3.5\\ 0.4 0.45 4.5\\ 0.5 0.45 6\\ 0.6 0.45 8\\ 0.7 0.45 10\\ 0.8 0.45 11.5\\ 0.9 0.45 12\\
-2 0.35 -0.4\\ -1.9 0.35 -0.5\\ -1.8 0.35 -0.6\\ -1.7 0.35 -0.7\\ -1.6 0.35 -0.9\\ -1.5 0.35 -1.1\\ -1.4 0.35 -1.4\\ -1.3 0.35 -1.9\\ -1.2 0.35 -2.6\\ -1.1 0.35 -3.6\\ -1 0.35 -5\\ -0.9 0.35 -6\\ -0.8 0.35 -6\\ -0.7 0.35 -4.5\\ -0.6 0.35 -2\\ -0.5 0.35 0.3\\ -0.4 0.35 2\\ -0.3 0.35 3\\ -0.2 0.35 3\\ -0.1 0.35 2.5\\ 0 0.35 2\\ 0.1 0.35 2\\ 0.2 0.35 2.5\\ 0.3 0.35 3.5\\ 0.4 0.35 5\\ 0.5 0.35 7\\ 0.6 0.35 9.5\\ 0.7 0.35 11.5\\ 0.8 0.35 12\\ 0.9 0.35 12\\
-2 0.25 -0.3\\ -1.9 0.25 -0.35\\ -1.8 0.25 -0.4\\ -1.7 0.25 -0.5\\ -1.6 0.25 -0.6\\ -1.5 0.25 -0.8\\ -1.4 0.25 -1\\ -1.3 0.25 -1.3\\ -1.2 0.25 -1.7\\ -1.1 0.25 -2.3\\ -1 0.25 -3\\ -0.9 0.25 -3.8\\ -0.8 0.25 -4.2\\ -0.7 0.25 -3.8\\ -0.6 0.25 -2.8\\ -0.5 0.25 -1.8\\ -0.4 0.25 -1\\ -0.3 0.25 -0.5\\ -0.2 0.25 0.3\\ -0.1 0.25 0.5\\ 0 0.25 0.8\\ 0.1 0.25 1.2\\ 0.2 0.25 1.8\\ 0.3 0.25 2.5\\ 0.4 0.25 4\\ 0.5 0.25 6.5\\ 0.6 0.25 9.5\\ 0.7 0.25 11.5\\ 0.8 0.25 12\\ 0.9 0.25 12\\
-2 0.15 -0.25\\ -1.9 0.15 -0.3\\ -1.8 0.15 -0.35\\ -1.7 0.15 -0.4\\ -1.6 0.15 -0.5\\ -1.5 0.15 -0.6\\ -1.4 0.15 -0.8\\ -1.3 0.15 -1\\ -1.2 0.15 -1.3\\ -1.1 0.15 -1.7\\ -1 0.15 -2.2\\ -0.9 0.15 -2.8\\ -0.8 0.15 -3.3\\ -0.7 0.15 -3.5\\ -0.6 0.15 -3\\ -0.5 0.15 -2\\ -0.4 0.15 -1\\ -0.3 0.15 -0.5\\ -0.2 0.15 -0.2\\ -0.1 0.15 0.2\\ 0 0.15 0.5\\ 0.1 0.15 1\\ 0.2 0.15 1.5\\ 0.3 0.15 2.5\\ 0.4 0.15 4.5\\ 0.5 0.15 7.5\\ 0.6 0.15 10.5\\ 0.7 0.15 12\\ 0.8 0.15 12\\ 0.9 0.15 12\\
-2 0.05 -0.2\\ -1.9 0.05 -0.25\\ -1.8 0.05 -0.3\\ -1.7 0.05 -0.35\\ -1.6 0.05 -0.4\\ -1.5 0.05 -0.5\\ -1.4 0.05 -0.6\\ -1.3 0.05 -0.8\\ -1.2 0.05 -1\\ -1.1 0.05 -1.3\\ -1 0.05 -1.7\\ -0.9 0.05 -2.2\\ -0.8 0.05 -2.7\\ -0.7 0.05 -3.2\\ -0.6 0.05 -3.3\\ -0.5 0.05 -2.6\\ -0.4 0.05 -1.5\\ -0.3 0.05 -0.7\\ -0.2 0.05 -0.3\\ -0.1 0.05 0.2\\ 0 0.05 0.4\\ 0.1 0.05 0.8\\ 0.2 0.05 1.5\\ 0.3 0.05 3\\ 0.4 0.05 5.5\\ 0.5 0.05 8.5\\ 0.6 0.05 11\\ 0.7 0.05 12\\ 0.8 0.05 12\\ 0.9 0.05 12\\
};
\addplot[only marks, mark=*, mark size=1.5bp, color=mdot, forget plot]
table[row sep=\\] {
x y\\
-2.0 4.03\\ -1.96 3.83\\ -1.83 3.80\\ -1.90 3.47\\ -1.91 3.34\\ -1.85 3.31\\ -1.72 3.02\\ -1.65 2.97\\ -1.58 2.89\\ -1.69 2.73\\
-1.545 2.49\\ -1.54 2.41\\ -1.53 2.28\\ -1.36 1.88\\ -1.35 1.76\\ -1.35 1.56\\ -1.215 1.51\\ -1.16 1.53\\ -1.095 1.39\\ -1.17 1.28\\
-1.15 1.14\\ -0.95 1.02\\ -0.91 1.00\\ -0.957 0.84\\ -0.85 0.86\\ -0.83 0.79\\ -0.82 0.77\\ -0.74 0.64\\ -0.69 0.68\\ -0.75 0.46\\
-0.63 0.44\\ -0.53 0.42\\ -0.50 0.43\\ -0.53 0.33\\ -0.52 0.23\\ -0.495 0.26\\ -0.475 0.17\\ -0.375 0.24\\ -0.36 0.03\\ -0.25 -0.02\\
-0.22 0.17\\ -0.225 0.06\\ -0.18 0.00\\ -0.18 -0.04\\ -0.01 0.08\\ 0.0 0.07\\ 0.04 -0.04\\ 0.06 -0.02\\ 0.085 -0.03\\ 0.12 0.09\\
0.12 0.04\\ 0.29 -0.04\\ 0.31 0.11\\ 0.39 0.24\\ 0.41 0.17\\ 0.435 0.16\\ 0.475 0.36\\ 0.495 0.33\\ 0.52 0.33\\ 0.665 0.44\\
0.69 0.46\\ 0.73 0.57\\ 0.82 0.59\\ 0.845 0.64\\ 0.79 0.80\\ 0.85 0.83\\ 0.85 0.96\\
};
\addplot[draw=mmag, color=mmag, line width=0.8bp, forget plot]
table[row sep=\\] {
x y\\
-2.0 3.82\\ -1.955 3.74\\ -1.97 3.57\\ -1.96 3.40\\ -1.92 3.24\\ -1.85 3.18\\ -1.79 3.04\\ -1.74 2.91\\ -1.69 2.73\\ -1.65 2.54\\
-1.60 2.34\\ -1.54 2.13\\ -1.51 1.99\\ -1.45 1.91\\ -1.40 1.69\\ -1.35 1.56\\ -1.25 1.38\\ -1.195 1.19\\ -1.11 1.02\\ -0.98 0.82\\
-0.865 0.68\\ -0.825 0.57\\ -0.73 0.38\\ -0.63 0.24\\ -0.515 0.10\\ -0.40 -0.05\\
nan nan\\
-1.87 3.97\\ -1.80 3.82\\ -1.78 3.73\\ -1.80 3.58\\ -1.815 3.46\\ -1.78 3.30\\ -1.75 3.19\\ -1.69 3.13\\ -1.65 3.04\\ -1.57 2.99\\
-1.56 2.69\\ -1.505 2.54\\ -1.42 2.30\\ -1.32 2.00\\ -1.26 1.85\\ -1.24 1.77\\ -1.155 1.60\\ -1.09 1.49\\ -1.04 1.34\\ -0.98 1.18\\
-0.845 1.02\\ -0.69 0.79\\ -0.58 0.60\\ -0.40 0.43\\ -0.205 0.30\\ -0.05 0.25\\ 0.10 0.21\\ 0.20 0.23\\ 0.30 0.29\\ 0.43 0.39\\
0.61 0.52\\ 0.69 0.64\\ 0.76 0.74\\ 0.785 0.88\\ 0.805 0.95\\ 0.89 1.01\\
nan nan\\
0.36 -0.05\\ 0.475 0.10\\ 0.607 0.29\\ 0.69 0.40\\ 0.805 0.49\\ 0.89 0.67\\
};
\addplot[only marks, mark=asterisk, mark size=5bp, color=mred, line width=0.8bp, forget plot]
table[row sep=\\] {
x y\\
0.78 3.21\\
};
\addlegendimage{legend image code/.code={\path[draw=none] (0bp,0bp) rectangle (40bp,0.1bp); \fill[mdot] (20bp,0bp) circle (1.5bp);}}
\addlegendentry{Observation}
\addlegendimage{legend image code/.code={\draw[draw=mblue, color=mblue, line width=0.75bp, -{Straight Barb[length=6bp,width=7bp]}] (0bp,0bp) -- (40bp,0bp);}}
\addlegendentry{Dérivée du SPE par rapport à fi suivant la direction x1}
\addlegendimage{legend image code/.code={\draw[draw=mmag, color=mmag, line width=1bp] (0bp,0bp) -- (40bp,0bp);}}
\addlegendentry{Limite du seuil du SPE}
\addlegendimage{legend image code/.code={\path[draw=none] (0bp,0bp) rectangle (40bp,0.1bp); \draw[draw=mred, color=mred, line width=0.8bp] plot[mark=asterisk, mark size=5bp] coordinates {(20bp,0bp)};}}
\addlegendentry{Observation en défaut}
\end{axis}
\end{tikzpicture}
\end{document}
